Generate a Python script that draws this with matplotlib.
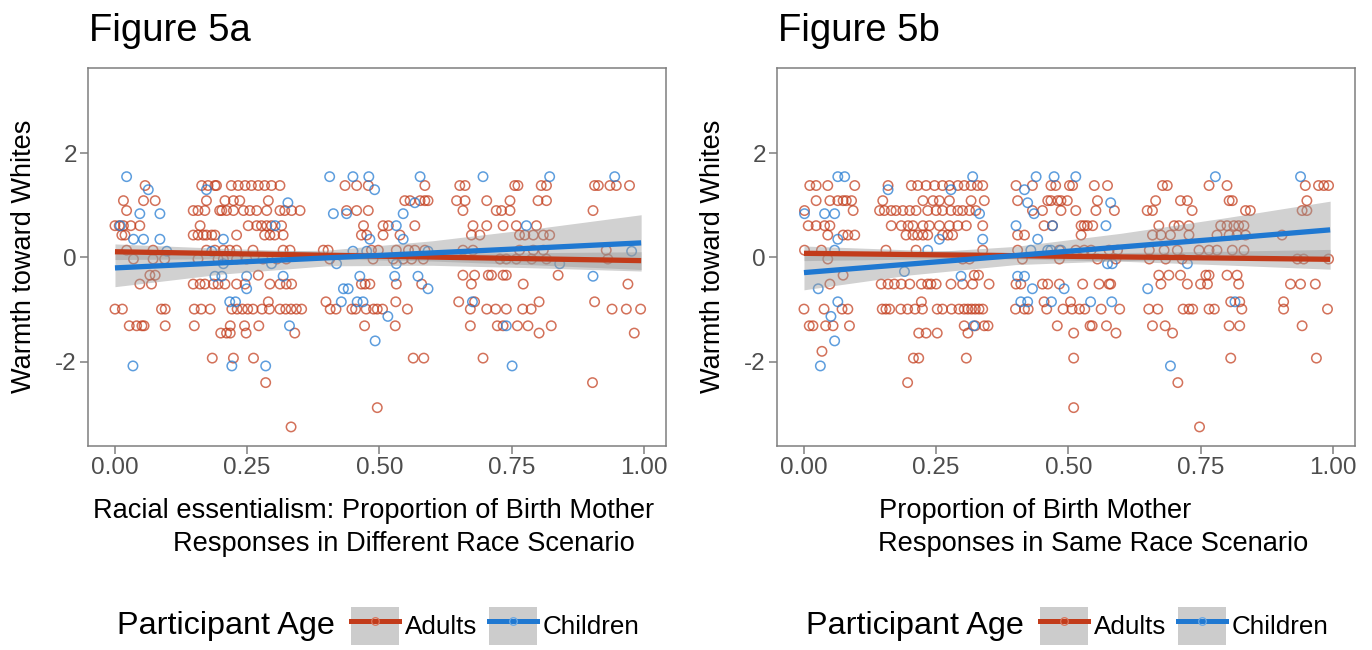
import numpy as np
import matplotlib.pyplot as plt
from matplotlib.patches import Patch
from matplotlib.lines import Line2D
from matplotlib.legend_handler import HandlerTuple

plt.rcParams['font.family'] = ['Liberation Sans', 'DejaVu Sans']
plt.rcParams['axes.unicode_minus'] = False

RED = '#C23B1A'
BLUE = '#1F78D1'
FRAME = '#7f7f7f'

# ---- Figure 5a: points, one list per warmth level ----
a_adult_levels = [1.38, 1.09, 0.90, 0.61, 0.43, 0.14, -0.03, -0.34, -0.51,
                  -0.85, -0.99, -1.31, -1.45, -1.93, -2.40, -2.88, -3.25]
a_adult_x = [
    [0.057, 0.164, 0.176, 0.189, 0.192, 0.220, 0.233, 0.246, 0.258, 0.271, 0.283, 0.296, 0.312,
     0.435, 0.457, 0.479, 0.586, 0.652, 0.662, 0.756, 0.762, 0.806, 0.816, 0.907, 0.914, 0.936,
     0.948, 0.973],
    [0.016, 0.054, 0.076, 0.173, 0.208, 0.224, 0.236, 0.290, 0.548, 0.558, 0.577, 0.586, 0.592,
     0.646, 0.662, 0.703, 0.747, 0.800, 0.816],
    [0.022, 0.148, 0.157, 0.170, 0.198, 0.202, 0.211, 0.224, 0.243, 0.255, 0.268, 0.287, 0.312,
     0.321, 0.334, 0.350, 0.438, 0.457, 0.479, 0.658, 0.721, 0.731, 0.747, 0.904],
    [0.000, 0.008, 0.016, 0.030, 0.047, 0.161, 0.252, 0.268, 0.277, 0.287, 0.296, 0.315, 0.470,
     0.507, 0.517, 0.567, 0.677, 0.703, 0.734, 0.759, 0.797],
    [0.013, 0.019, 0.148, 0.157, 0.167, 0.173, 0.183, 0.189, 0.230, 0.283, 0.293, 0.302, 0.318,
     0.466, 0.476, 0.507, 0.539, 0.674, 0.690, 0.765, 0.775, 0.791, 0.810, 0.822],
    [0.022, 0.072, 0.173, 0.189, 0.205, 0.217, 0.230, 0.261, 0.318, 0.331, 0.394, 0.403, 0.485,
     0.498, 0.532, 0.555, 0.567, 0.586, 0.658, 0.677, 0.765, 0.791, 0.810, 0.929],
    [0.035, 0.072, 0.094, 0.157, 0.195, 0.205, 0.230, 0.249, 0.280, 0.306, 0.324, 0.406, 0.488,
     0.526, 0.545, 0.561, 0.583, 0.728, 0.740, 0.759, 0.788, 0.816, 0.932],
    [0.066, 0.076, 0.271, 0.658, 0.680, 0.706, 0.712, 0.734, 0.740, 0.838],
    [0.047, 0.069, 0.148, 0.161, 0.170, 0.186, 0.195, 0.208, 0.230, 0.246, 0.293, 0.312, 0.324,
     0.334, 0.466, 0.473, 0.482, 0.532, 0.580, 0.674, 0.772, 0.970],
    [0.290, 0.399, 0.531, 0.650, 0.680, 0.802, 0.907],
    [0.000, 0.014, 0.088, 0.095, 0.150, 0.163, 0.180, 0.221, 0.231, 0.241, 0.251, 0.261, 0.278,
     0.292, 0.312, 0.323, 0.333, 0.343, 0.353, 0.407, 0.418, 0.448, 0.455, 0.475, 0.489, 0.496,
     0.506, 0.553, 0.672, 0.703, 0.720, 0.740, 0.771, 0.787, 0.940, 0.967, 0.994],
    [0.027, 0.041, 0.051, 0.055, 0.095, 0.150, 0.218, 0.245, 0.272, 0.472, 0.530, 0.672, 0.723,
     0.734, 0.761, 0.781, 0.825],
    [0.200, 0.211, 0.218, 0.248, 0.340, 0.802, 0.982],
    [0.184, 0.224, 0.262, 0.564, 0.584, 0.696],
    [0.285, 0.903],
    [0.496],
    [0.333],
]
a_child_levels = [1.55, 1.30, 1.05, 0.84, 0.61, 0.35, 0.12, -0.12, -0.36, -0.60,
                  -0.85, -1.13, -1.31, -1.60, -2.08]
a_child_x = [
    [0.022, 0.406, 0.450, 0.480, 0.577, 0.696, 0.822, 0.945],
    [0.063, 0.173, 0.491],
    [0.327, 0.567],
    [0.047, 0.085, 0.413, 0.438, 0.545],
    [0.010, 0.303, 0.532, 0.778],
    [0.035, 0.054, 0.085, 0.205, 0.482, 0.545],
    [0.098, 0.183, 0.450, 0.476, 0.592, 0.977],
    [0.205, 0.296, 0.419, 0.532, 0.841],
    [0.189, 0.202, 0.249, 0.318, 0.463, 0.529, 0.573, 0.904],
    [0.249, 0.432, 0.441, 0.592],
    [0.217, 0.228, 0.428, 0.458, 0.469, 0.676],
    [0.516],
    [0.330, 0.740],
    [0.492],
    [0.034, 0.221, 0.285, 0.751],
]

# ---- Figure 5b ----
b_adult_levels = [1.38, 1.09, 0.90, 0.61, 0.43, 0.14, -0.03, -0.34, -0.51,
                  -0.85, -0.99, -1.31, -1.45, -1.80, -1.93, -2.40, -2.88, -3.25]
b_adult_x = [
    [0.011, 0.023, 0.045, 0.096, 0.159, 0.203, 0.215, 0.231, 0.247, 0.262, 0.275, 0.291, 0.303,
     0.316, 0.328, 0.338, 0.401, 0.432, 0.467, 0.476, 0.502, 0.508, 0.549, 0.574, 0.678, 0.687,
     0.766, 0.800, 0.948, 0.973, 0.983, 0.992],
    [0.023, 0.049, 0.064, 0.074, 0.080, 0.090, 0.149, 0.225, 0.244, 0.256, 0.275, 0.316, 0.341,
     0.404, 0.461, 0.467, 0.480, 0.486, 0.498, 0.555, 0.665, 0.712, 0.725, 0.804, 0.810, 0.951],
    [0.001, 0.093, 0.143, 0.152, 0.165, 0.174, 0.187, 0.200, 0.212, 0.234, 0.250, 0.262, 0.278,
     0.291, 0.300, 0.313, 0.325, 0.432, 0.451, 0.486, 0.514, 0.552, 0.587, 0.649, 0.659, 0.734,
     0.835, 0.844, 0.942, 0.951],
    [0.008, 0.023, 0.039, 0.049, 0.165, 0.184, 0.197, 0.206, 0.225, 0.237, 0.256, 0.275, 0.291,
     0.307, 0.338, 0.454, 0.470, 0.524, 0.530, 0.536, 0.546, 0.671, 0.700, 0.709, 0.728, 0.788,
     0.800, 0.813, 0.822, 0.832],
    [0.045, 0.074, 0.083, 0.096, 0.193, 0.206, 0.215, 0.225, 0.234, 0.262, 0.272, 0.281, 0.404,
     0.417, 0.524, 0.659, 0.675, 0.693, 0.728, 0.781, 0.804, 0.819, 0.835, 0.904],
    [0.001, 0.033, 0.155, 0.212, 0.338, 0.404, 0.483, 0.514, 0.530, 0.543, 0.577, 0.593, 0.653,
     0.681, 0.706, 0.747, 0.766, 0.781, 0.810, 0.832],
    [0.045, 0.300, 0.313, 0.413, 0.483, 0.555, 0.590, 0.653, 0.684, 0.715, 0.933, 0.945, 0.992],
    [0.074, 0.322, 0.330, 0.671, 0.690, 0.712, 0.760, 0.766, 0.800, 0.819],
    [0.049, 0.146, 0.159, 0.171, 0.184, 0.200, 0.222, 0.234, 0.240, 0.250, 0.278, 0.300, 0.319,
     0.350, 0.401, 0.410, 0.451, 0.461, 0.483, 0.527, 0.558, 0.577, 0.580, 0.675, 0.725, 0.750,
     0.763, 0.822, 0.920, 0.939, 0.967],
    [0.222, 0.454, 0.504, 0.807, 0.824, 0.907],
    [0.000, 0.038, 0.072, 0.083, 0.148, 0.155, 0.162, 0.183, 0.196, 0.210, 0.224, 0.252, 0.262,
     0.279, 0.293, 0.303, 0.310, 0.317, 0.324, 0.331, 0.338, 0.400, 0.417, 0.424, 0.459, 0.490,
     0.507, 0.521, 0.531, 0.562, 0.597, 0.652, 0.669, 0.717, 0.728, 0.735, 0.766, 0.776, 0.828,
     0.907, 0.990],
    [0.010, 0.017, 0.041, 0.055, 0.086, 0.303, 0.324, 0.341, 0.348, 0.479, 0.541, 0.545, 0.572,
     0.659, 0.683, 0.804, 0.824, 0.942],
    [0.217, 0.231, 0.252, 0.310, 0.510, 0.590, 0.697],
    [0.034],
    [0.207, 0.217, 0.307, 0.510, 0.807, 0.969],
    [0.196, 0.707],
    [0.510],
    [0.748],
]
b_child_levels = [1.55, 1.30, 1.05, 0.84, 0.61, 0.35, 0.14, -0.12, -0.27, -0.36, -0.60,
                  -0.85, -1.13, -1.31, -1.60, -2.08]
b_child_x = [
    [0.064, 0.077, 0.319, 0.439, 0.473, 0.514, 0.778, 0.939],
    [0.159, 0.278, 0.417],
    [0.423, 0.580],
    [0.001, 0.039, 0.058, 0.332, 0.435],
    [0.401, 0.470, 0.571],
    [0.064, 0.256, 0.338, 0.442],
    [0.058, 0.234, 0.429, 0.461, 0.467, 0.486],
    [0.574, 0.583, 0.725],
    [0.190],
    [0.297, 0.404, 0.417],
    [0.027, 0.432, 0.492, 0.650],
    [0.064, 0.410, 0.423, 0.468, 0.542, 0.582, 0.815],
    [0.051],
    [0.321],
    [0.058],
    [0.031, 0.693],
]

# ---- linear fits with 95% bands ----
fit_x = [0.0, 0.2, 0.4, 0.6, 0.8, 0.995]
a_adult_fit = [0.11, 0.076, 0.042, 0.008, -0.026, -0.06]
a_adult_lo = [-0.04, -0.024, -0.025, -0.068, -0.144, -0.23]
a_adult_hi = [0.26, 0.176, 0.109, 0.084, 0.092, 0.11]
a_child_fit = [-0.20, -0.104, -0.008, 0.088, 0.184, 0.28]
a_child_lo = [-0.56, -0.32, -0.16, -0.15, -0.20, -0.26]
a_child_hi = [0.16, 0.11, 0.14, 0.32, 0.56, 0.82]
b_adult_fit = [0.08, 0.057, 0.034, 0.011, -0.012, -0.035]
b_adult_lo = [-0.06, -0.032, -0.026, -0.072, -0.145, -0.225]
b_adult_hi = [0.22, 0.146, 0.094, 0.094, 0.121, 0.155]
b_child_fit = [-0.29, -0.126, 0.038, 0.202, 0.366, 0.53]
b_child_lo = [-0.62, -0.335, -0.137, -0.061, -0.034, -0.02]
b_child_hi = [0.04, 0.083, 0.213, 0.465, 0.766, 1.08]

x_ticks = [0.0, 0.25, 0.5, 0.75, 1.0]
x_tick_labels = ['0.00', '0.25', '0.50', '0.75', '1.00']
y_ticks = [-2, 0, 2]
y_tick_labels = ['-2', '0', '2']


def flatten(levels, rows):
    x = np.concatenate([np.asarray(r, float) for r in rows])
    y = np.concatenate([[lv] * len(r) for lv, r in zip(levels, rows)])
    return x, y


W, H = 1372, 650
fig = plt.figure(figsize=(W / 100, H / 100), dpi=100)


def draw_panel(left_px, adults, children, fits, title, label_lines):
    ax = fig.add_axes([left_px / W, (H - 445.7) / H, 578 / W, 378 / H])
    ax_x, ax_y = flatten(*adults)
    ch_x, ch_y = flatten(*children)
    ax.scatter(ax_x, ax_y, s=46, facecolors='none', edgecolors=RED, linewidths=1.1,
               alpha=0.72, zorder=2)
    ax.scatter(ch_x, ch_y, s=46, facecolors='none', edgecolors=BLUE, linewidths=1.1,
               alpha=0.72, zorder=2)
    # bands first, fitted lines on top of both bands
    for fit, lo, hi in fits:
        ax.fill_between(fit_x, lo, hi, color='#999999', alpha=0.45, lw=0, zorder=3)
    for (fit, lo, hi), col in zip(fits, [RED, BLUE]):
        ax.plot(fit_x, fit, color=col, lw=3.8, solid_capstyle='butt', zorder=4)
    ax.set_xlim(-0.051, 1.042)
    ax.set_ylim(-3.61, 3.64)
    ax.set_xticks(x_ticks, x_tick_labels)
    ax.set_yticks(y_ticks, y_tick_labels)
    ax.tick_params(direction='out', length=5.5, width=1.1, color=FRAME,
                   labelsize=17.5, labelcolor='#4D4D4D', pad=2.5)
    for s in ax.spines.values():
        s.set_color(FRAME)
        s.set_linewidth(1.1)
    ax.set_ylabel('Warmth toward Whites', fontsize=19.5, color='black')
    ax.yaxis.set_label_coords(-0.088, 0.5)
    fig.text((left_px + 1) / W, 1 - 41 / H, title, fontsize=27.5, ha='left', va='baseline')
    for (txt, x_px, y_px) in label_lines:
        fig.text(x_px / W, 1 - y_px / H, txt, fontsize=19.6, ha='left', va='baseline')

    # legend below the panel
    key = Patch(facecolor='#cccccc', edgecolor='none')
    h_a = Line2D([], [], color=RED, lw=3.6, marker='o', ms=5.5, mfc='none', mec='#d9745a',
                 mew=0.9)
    h_c = Line2D([], [], color=BLUE, lw=3.6, marker='o', ms=5.5, mfc='none', mec='#6aa8e4',
                 mew=0.9)
    fig.text((left_px + 29) / W, 1 - 626 / H, 'Participant Age', fontsize=23.3,
             ha='left', va='center')
    fig.legend([(key, h_a), (key, h_c)], ['Adults', 'Children'],
               handler_map={tuple: HandlerTuple(ndivide=1, pad=0)},
               loc='center left', bbox_to_anchor=((left_px + 263) / W, 1 - 626 / H),
               ncol=2, frameon=False, fontsize=18.7, handlelength=1.83, handleheight=1.83,
               handletextpad=0.25, columnspacing=0.45, borderpad=0, borderaxespad=0)
    return ax


draw_panel(88, (a_adult_levels, a_adult_x), (a_child_levels, a_child_x),
           [(a_adult_fit, a_adult_lo, a_adult_hi), (a_child_fit, a_child_lo, a_child_hi)],
           'Figure 5a',
           [('Racial essentialism: Proportion of Birth Mother', 93, 518),
            ('Responses in Different Race Scenario', 173, 551)])
draw_panel(777, (b_adult_levels, b_adult_x), (b_child_levels, b_child_x),
           [(b_adult_fit, b_adult_lo, b_adult_hi), (b_child_fit, b_child_lo, b_child_hi)],
           'Figure 5b',
           [('Proportion of Birth Mother', 879, 518),
            ('Responses in Same Race Scenario', 878, 551)])

fig.savefig('out.png', dpi=100, facecolor='white')
